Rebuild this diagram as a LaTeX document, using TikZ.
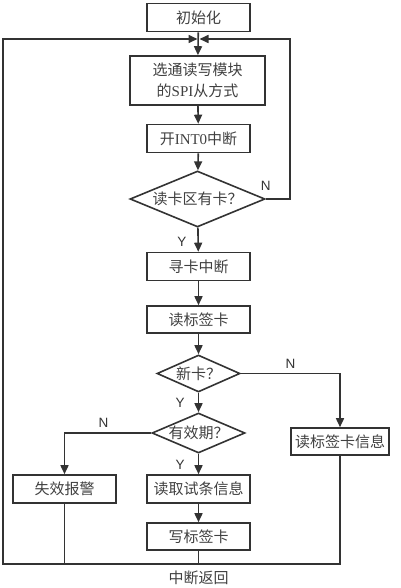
\documentclass[tikz,border=0pt]{standalone}
\usepackage{fontspec}
\setmainfont{Liberation Serif}
\newfontfamily\cjk{Noto Sans CJK SC}
\newfontfamily\lat{Liberation Sans}
\usetikzlibrary{shapes.geometric,arrows.meta}

\begin{document}
\begin{tikzpicture}[x=1pt,y=-1pt,line width=1.6pt,draw=black!80,
  box/.style={draw, rectangle, minimum width=103pt, minimum height=28pt, inner sep=2pt, align=center, text=black!75, font=\fontsize{15}{21}\selectfont\cjk},
  dia/.style={draw, diamond, inner sep=0pt, aspect=2.3, text=black!75, font=\fontsize{15}{16}\selectfont\cjk},
  yn/.style={inner sep=1pt, text=black!80, font=\fontsize{13.5}{15}\selectfont\lat},
  go/.style={draw, -{Triangle[length=9pt,width=8pt]}}]
\useasboundingbox (0,0) rectangle (400,588);
\node[box] (init) at (198.5,17.5) {初始化};
\node[box, minimum width=135pt, minimum height=49pt] (spi) at (197.5,80.5) {选通读写模块\\的{\rmfamily SPI}从方式};
\node[box] (int0) at (198.5,138.5) {开{\rmfamily INT0}中断};
\node[dia, minimum width=135pt, minimum height=56pt] (card) at (197.5,199) {读卡区有卡？};
\node[box] (seek) at (198.5,266.5) {寻卡中断};
\node[box, minimum height=27pt] (rtag) at (198.5,319.5) {读标签卡};
\node[dia, minimum width=83pt, minimum height=37pt] (new) at (198.5,373.5) {新卡？};
\node[dia, minimum width=93pt, minimum height=40pt] (valid) at (198.5,433) {有效期？};
\node[box, minimum width=98pt, minimum height=27pt] (info) at (340,441.5) {读标签卡信息};
\node[box] (alarm) at (64.5,489) {失效报警};
\node[box] (strip) at (198.5,489) {读取试条信息};
\node[box, minimum height=27pt] (wtag) at (198.5,536.5) {写标签卡};
\node[text=black!75, font=\fontsize{15}{16}\selectfont\cjk] (ret) at (198.5,578) {中断返回};
\coordinate (m) at (198.5,39);
\coordinate (r) at (290,39);
\coordinate (l) at (3,39);
\coordinate (b) at (3,564);
% main column
\path[go] (init) -- (spi);
\path[go] (spi) -- (int0);
\path[go] (int0) -- (card);
\path[go] (card) -- node[yn, left=10pt, pos=0.6] {Y} (seek);
\path[go] (seek) -- (rtag);
\path[go] (rtag) -- (new);
\path[go] (new) -- node[yn, left=12pt] {Y} (valid);
\path[go] (valid) -- node[yn, left=12pt, pos=0.55] {Y} (strip);
\path[go] (strip) -- (wtag);
% branches
\path[go, shorten >=1pt] (card.east) -- node[yn, at start, above=7pt] {N} (card.east -| r) -- (r) -- (m);
\path[go] (new.east) -- node[yn, above=3pt] {N} (new.east -| info) -- (info);
\path[go] (valid.west) -- node[yn, above=4pt, pos=0.55] {N} (valid.west -| alarm) -- (alarm);
% return
\path[go, shorten >=1pt] (info) -- (info |- b) -- (b) -- (l) -- (m);
\path[draw] (alarm) -- (alarm |- b);
\path[draw] (wtag) -- (wtag |- b);
\end{tikzpicture}
\end{document}
